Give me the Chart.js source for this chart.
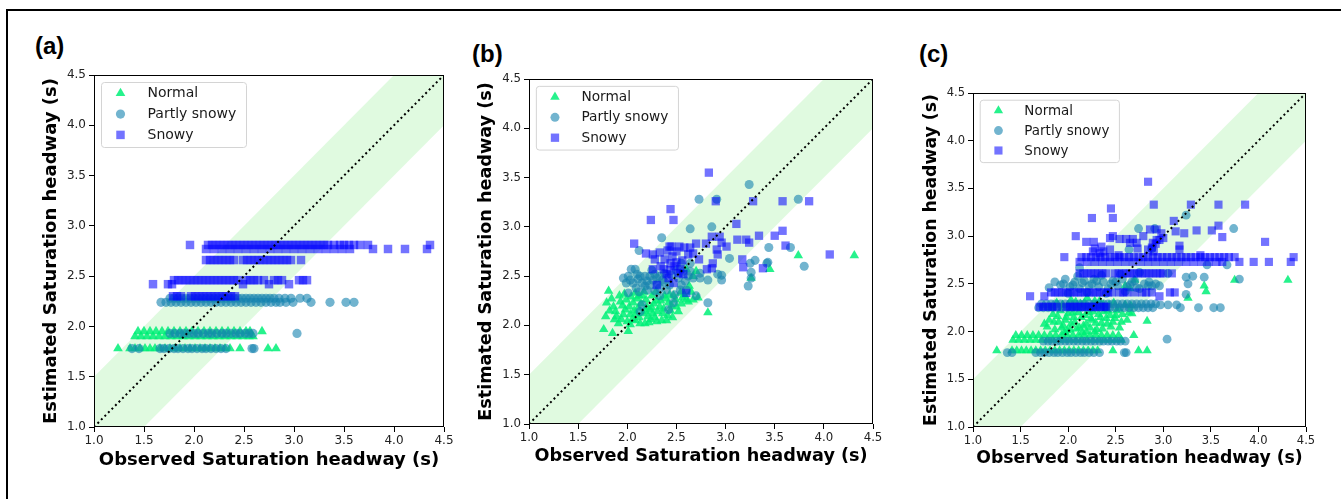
<!DOCTYPE html>
<html>
<head>
<meta charset="utf-8">
<script src="https://cdn.jsdelivr.net/npm/chart.js@4.4.1/dist/chart.umd.min.js"></script>
<style>
  body { margin: 0; background: #fff; width: 1341px; height: 499px; overflow: hidden; position: relative; }
  .frame { position: absolute; left: 6px; top: 9px; width: 1400px; height: 600px; border-left: 2px solid #000; border-top: 2px solid #000; }
  .tag { position: absolute; font: bold 24px "Liberation Sans", Arial, sans-serif; line-height: 24px; color: #000; }
  canvas { position: absolute; }
</style>
</head>
<body>
<div class="frame"></div>
<div class="tag" style="left:35px;top:34px">(a)</div>
<div class="tag" style="left:472px;top:42px">(b)</div>
<div class="tag" style="left:919px;top:42px">(c)</div>
<canvas id="chartA"></canvas>
<canvas id="chartB"></canvas>
<canvas id="chartC"></canvas>

<script>
// axis ticks and labels
const ticks = [1.0, 1.5, 2.0, 2.5, 3.0, 3.5, 4.0, 4.5];
const xTitle = "Observed Saturation headway (s)";
const yTitle = "Estimated Saturation headway (s)";
const seriesNames = ["Normal", "Partly snowy", "Snowy"];
const bandWidth = 0.5; // +/- 0.5 s band around y = x

// (a) points: [observed, estimated]
const aNormal = [
  [1.44,1.95],[1.50,1.95],[1.56,1.95],[1.62,1.95],[1.68,1.95],[1.74,1.95],[1.80,1.95],[1.86,1.95],[1.92,1.95],[1.98,1.95],
  [2.04,1.95],[2.10,1.95],[2.16,1.95],[2.22,1.95],[2.28,1.95],[2.34,1.95],[2.40,1.95],[2.46,1.95],[2.52,1.95],[2.56,1.95],[2.68,1.95],
  [1.41,1.90],[1.47,1.90],[1.53,1.90],[1.59,1.90],[1.65,1.90],[1.71,1.90],[1.77,1.90],[1.83,1.90],[1.89,1.90],[1.95,1.90],
  [2.01,1.90],[2.07,1.90],[2.13,1.90],[2.19,1.90],[2.25,1.90],[2.31,1.90],[2.37,1.90],[2.43,1.90],[2.49,1.90],[2.55,1.90],[2.59,1.90],
  [1.24,1.78],[1.36,1.78],[1.41,1.78],[1.46,1.78],[1.51,1.78],[1.56,1.78],[1.61,1.78],[1.66,1.78],[1.71,1.78],[1.76,1.78],
  [1.81,1.78],[1.86,1.78],[1.91,1.78],[1.96,1.78],[2.01,1.78],[2.06,1.78],[2.11,1.78],[2.16,1.78],[2.21,1.78],[2.26,1.78],
  [2.31,1.78],[2.36,1.78],[2.46,1.78],[2.74,1.78],[2.82,1.78]
];
const aPartly = [
  [1.76,2.28],[1.80,2.28],[1.84,2.28],[1.88,2.28],[1.92,2.28],[1.96,2.28],[2.00,2.28],[2.04,2.28],[2.08,2.28],[2.12,2.28],
  [2.16,2.28],[2.20,2.28],[2.24,2.28],[2.28,2.28],[2.32,2.28],[2.36,2.28],[2.40,2.28],[2.44,2.28],[2.48,2.28],[2.52,2.28],
  [2.56,2.28],[2.60,2.28],[2.64,2.28],[2.68,2.28],[2.72,2.28],[2.76,2.28],[2.80,2.28],[2.85,2.28],[2.91,2.28],[2.97,2.28],
  [3.06,2.28],[3.13,2.28],
  [1.67,2.24],[1.72,2.24],[1.77,2.24],[1.82,2.24],[1.87,2.24],[1.92,2.24],[1.97,2.24],[2.02,2.24],[2.07,2.24],[2.12,2.24],
  [2.17,2.24],[2.22,2.24],[2.27,2.24],[2.32,2.24],[2.37,2.24],[2.42,2.24],[2.47,2.24],[2.52,2.24],[2.57,2.24],[2.62,2.24],
  [2.67,2.24],[2.72,2.24],[2.77,2.24],[2.82,2.24],[2.86,2.24],[2.92,2.24],[2.99,2.24],[3.17,2.24],[3.36,2.24],[3.52,2.24],[3.60,2.24],
  [1.76,1.93],[1.81,1.93],[1.86,1.93],[1.90,1.93],[1.95,1.93],[2.00,1.93],[2.04,1.93],[2.09,1.93],[2.14,1.93],[2.18,1.93],
  [2.23,1.93],[2.28,1.93],[2.32,1.93],[2.37,1.93],[2.42,1.93],[2.46,1.93],[2.51,1.93],[2.55,1.93],[2.59,1.93],[3.03,1.93],
  [1.38,1.78],[1.45,1.78],[1.66,1.78],[1.70,1.78],[1.75,1.78],[1.80,1.78],[1.84,1.78],[1.89,1.78],[1.94,1.78],[1.98,1.78],
  [2.03,1.78],[2.08,1.78],[2.12,1.78],[2.17,1.78],[2.22,1.78],[2.27,1.78],[2.32,1.78],[2.58,1.78],[2.60,1.78]
];
const aSnowy = [
  [1.96,2.81],[2.14,2.81],[2.18,2.81],[2.22,2.81],[2.26,2.81],[2.30,2.81],[2.34,2.81],[2.38,2.81],[2.42,2.81],[2.46,2.81],
  [2.50,2.81],[2.54,2.81],[2.58,2.81],[2.62,2.81],[2.66,2.81],[2.70,2.81],[2.74,2.81],[2.78,2.81],[2.82,2.81],[2.86,2.81],
  [2.90,2.81],[2.94,2.81],[2.98,2.81],[3.02,2.81],[3.06,2.81],[3.10,2.81],[3.14,2.81],[3.18,2.81],[3.22,2.81],[3.26,2.81],
  [3.30,2.81],[3.34,2.81],[3.40,2.81],[3.46,2.81],[3.50,2.81],[3.55,2.81],[3.60,2.81],[3.66,2.81],[3.74,2.81],[4.36,2.81],
  [2.12,2.77],[2.20,2.77],[2.28,2.77],[2.36,2.77],[2.44,2.77],[2.52,2.77],[2.60,2.77],[2.68,2.77],[2.76,2.77],[2.84,2.77],
  [2.92,2.77],[3.00,2.77],[3.08,2.77],[3.16,2.77],[3.24,2.77],[3.32,2.77],[3.40,2.77],[3.48,2.77],[3.56,2.77],
  [3.79,2.77],[3.94,2.77],[4.11,2.77],[4.33,2.77],
  [2.12,2.66],[2.16,2.66],[2.20,2.66],[2.24,2.66],[2.28,2.66],[2.32,2.66],[2.36,2.66],[2.40,2.66],[2.49,2.66],[2.53,2.66],
  [2.57,2.66],[2.61,2.66],[2.65,2.66],[2.69,2.66],[2.73,2.66],[2.77,2.66],[2.81,2.66],[2.85,2.66],[2.89,2.66],[2.93,2.66],
  [2.97,2.66],[3.07,2.66],
  [1.80,2.46],[1.84,2.46],[1.88,2.46],[1.92,2.46],[1.96,2.46],[2.00,2.46],[2.04,2.46],[2.08,2.46],[2.12,2.46],[2.16,2.46],
  [2.20,2.46],[2.24,2.46],[2.28,2.46],[2.32,2.46],[2.36,2.46],[2.40,2.46],[2.44,2.46],[2.52,2.46],[2.56,2.46],[2.60,2.46],
  [2.64,2.46],[2.70,2.46],[2.80,2.46],[2.84,2.46],[2.88,2.46],[3.05,2.46],[3.09,2.46],[3.13,2.46],
  [1.59,2.42],[1.74,2.42],[1.78,2.42],[2.49,2.42],[2.75,2.42],[2.95,2.42],
  [1.79,2.30],[1.83,2.30],[1.87,2.30],[1.97,2.30],[2.01,2.30],[2.05,2.30],[2.09,2.30],[2.13,2.30],[2.17,2.30],[2.21,2.30],
  [2.25,2.30],[2.29,2.30],[2.33,2.30],[2.37,2.30],[2.41,2.30]
];

// (b) points
const bNormal = [
  [1.81,2.35],[1.76,1.96],[1.85,1.92],[2.01,1.94],[1.92,2.30],[1.79,2.23],[1.78,2.09],[1.86,2.19],[1.89,2.09],[1.99,2.26],
  [1.98,2.16],[2.03,2.11],[2.06,2.23],[2.08,2.33],[2.09,2.12],[2.13,2.02],[2.18,2.02],[2.20,2.19],[2.25,2.30],[2.26,2.12],
  [2.30,2.04],[2.33,2.19],[2.38,2.30],[2.40,2.05],[2.42,2.23],[2.47,2.30],[2.50,2.19],[2.21,2.09],[1.94,2.06],[2.60,2.57],
  [2.67,2.50],[2.67,2.26],[2.60,2.26],[2.82,2.13],[3.26,2.48],[3.45,2.57],[3.74,2.71],[4.31,2.71],[2.54,2.33],[2.15,2.30],
  [2.36,2.12],[1.82,2.15],[1.95,2.20],[2.11,2.18],[2.24,2.06],[2.44,2.15],[2.56,2.28],[2.70,2.55],[2.63,2.40],[2.72,2.28],
  [1.84,2.27],[1.88,2.14],[1.91,2.02],[1.93,2.24],[1.96,2.11],[1.97,2.32],[2.00,2.04],[2.02,2.19],[2.04,2.29],[2.05,2.06],
  [2.07,2.15],[2.10,2.27],[2.12,2.08],[2.14,2.22],[2.16,2.12],[2.17,2.34],[2.19,2.26],[2.22,2.03],[2.23,2.16],[2.27,2.22],
  [2.28,2.08],[2.29,2.34],[2.31,2.14],[2.34,2.25],[2.35,2.05],[2.37,2.17],[2.39,2.27],[2.41,2.10],[2.43,2.31],[2.45,2.20],
  [2.46,2.08],[2.49,2.26],[2.52,2.14],[2.55,2.22],[2.58,2.31],[2.62,2.24],[2.65,2.34],[2.30,2.25],[2.12,2.30],[2.25,2.18],
  [2.03,2.01],[2.19,2.14],[1.87,2.06],[2.08,2.05]
];
const bPartly = [
  [3.24,3.43],[2.73,3.28],[2.91,3.28],[3.74,3.28],[2.64,2.98],[2.86,3.00],[2.35,2.89],[3.44,2.79],[3.66,2.79],[3.04,2.68],
  [2.12,2.76],[3.30,2.66],[3.25,2.63],[3.42,2.63],[3.80,2.60],[3.26,2.54],[3.23,2.40],[3.26,2.48],[2.96,2.51],[2.96,2.46],
  [2.82,2.46],[2.82,2.23],[2.70,2.30],[2.60,2.36],[2.64,2.63],[2.74,2.53],[2.74,2.48],[2.67,2.48],[2.55,2.63],[1.96,2.48],
  [2.01,2.50],[2.04,2.57],[2.08,2.57],[2.13,2.50],[2.18,2.50],[2.23,2.50],[2.28,2.52],[2.33,2.50],[2.38,2.53],[1.99,2.43],
  [2.06,2.43],[2.15,2.43],[2.23,2.41],[2.01,2.33],[2.09,2.38],[2.20,2.36],[2.33,2.38],[2.40,2.36],[2.15,2.21],[2.13,2.14],
  [2.33,2.30],[2.42,2.16],[2.47,2.23],[2.48,2.31],[2.54,2.36],[2.55,2.41],[2.59,2.45],[2.64,2.55],[2.30,2.48],[2.43,2.41],
  [2.52,2.48],[2.57,2.55],[2.92,2.52],[3.43,2.64],
  [2.03,2.46],[2.11,2.47],[2.20,2.45],[2.26,2.46],[2.36,2.46],[2.45,2.51],[2.50,2.56],[2.62,2.50],[2.10,2.52],[2.25,2.56],
  [2.31,2.42],[2.18,2.40],[2.12,2.34],[2.28,2.35],[2.38,2.44]
];
const bSnowy = [
  [2.83,3.55],[2.44,3.18],[2.47,3.07],[2.24,3.07],[2.90,3.26],[3.28,3.26],[3.58,3.26],[3.85,3.26],[3.11,3.03],[2.07,2.83],
  [2.19,2.73],[2.26,2.72],[2.28,2.67],[2.38,2.67],[2.26,2.57],[2.37,2.57],[2.44,2.63],[2.45,2.80],[2.43,2.80],[2.53,2.80],
  [2.58,2.79],[2.64,2.79],[2.70,2.83],[2.80,2.83],[2.67,2.73],[2.73,2.67],[2.86,2.90],[2.94,2.90],[2.96,2.84],[3.01,2.80],
  [2.91,2.77],[2.92,2.72],[2.87,2.63],[2.86,2.58],[2.81,2.57],[3.12,2.87],[3.21,2.87],[3.24,2.84],[3.34,2.91],[3.50,2.91],
  [3.58,2.96],[3.61,2.81],[3.17,2.67],[3.18,2.59],[3.38,2.58],[4.06,2.72],[2.60,2.33],[2.30,2.41],[2.47,2.43],[2.42,2.48],
  [2.52,2.53],[2.54,2.57],[2.48,2.60],[2.40,2.52],
  [2.34,2.60],[2.46,2.70],[2.50,2.75],[2.56,2.66],[2.62,2.72],[2.41,2.76],[2.33,2.74],[2.50,2.64],[2.57,2.52],[2.44,2.56]
];

// (c) points
const cNormal = [
  [1.45,1.96],[1.51,1.96],[1.57,1.96],[1.63,1.96],[1.69,1.96],[1.75,1.96],[1.81,1.96],[1.87,1.96],[1.93,1.96],[1.99,1.96],
  [2.05,1.96],[2.11,1.96],[2.17,1.96],[2.23,1.96],[2.29,1.96],[2.35,1.96],[2.41,1.96],[2.47,1.96],[2.53,1.96],[2.69,1.96],
  [1.42,1.91],[1.48,1.91],[1.54,1.91],[1.60,1.91],[1.66,1.91],[1.72,1.91],[1.78,1.91],[1.84,1.91],[1.90,1.91],[1.96,1.91],
  [2.02,1.91],[2.08,1.91],[2.14,1.91],[2.20,1.91],[2.26,1.91],[2.32,1.91],[2.38,1.91],[2.44,1.91],[2.50,1.91],[2.56,1.91],
  [1.25,1.80],[1.41,1.80],[1.46,1.80],[1.51,1.80],[1.56,1.80],[1.61,1.80],[1.66,1.80],[1.71,1.80],[1.76,1.80],[1.81,1.80],
  [1.86,1.80],[1.91,1.80],[1.96,1.80],[2.01,1.80],[2.06,1.80],[2.11,1.80],[2.16,1.80],[2.21,1.80],[2.26,1.80],[2.31,1.80],
  [2.47,1.80],[2.74,1.80],[2.83,1.80],
  [1.78,2.05],[1.80,2.12],[1.84,2.18],[1.86,2.02],[1.90,2.10],[1.92,2.22],[1.95,2.06],[1.98,2.15],[2.00,2.28],[2.02,2.02],
  [2.05,2.20],[2.07,2.10],[2.10,2.25],[2.12,2.04],[2.14,2.15],[2.17,2.30],[2.19,2.08],[2.22,2.20],[2.25,2.12],[2.27,2.26],
  [2.30,2.02],[2.32,2.18],[2.35,2.09],[2.37,2.28],[2.40,2.14],[2.42,2.22],[2.45,2.05],[2.48,2.30],[2.50,2.17],[2.53,2.24],
  [2.56,2.10],[2.60,2.28],[2.64,2.20],[1.88,2.30],[2.03,2.33],[2.20,2.35],[2.33,2.32],[1.96,1.99],[2.15,1.99],[2.28,2.00],
  [1.75,2.08],[1.82,2.25],[1.85,2.10],[1.89,2.16],[1.93,2.04],[1.94,2.28],[1.97,2.12],[2.00,2.19],[2.03,2.08],[2.04,2.26],
  [2.06,2.15],[2.09,2.03],[2.11,2.20],[2.13,2.29],[2.16,2.06],[2.18,2.17],[2.21,2.26],[2.23,2.04],[2.24,2.14],[2.26,2.21],
  [2.29,2.09],[2.31,2.27],[2.34,2.15],[2.36,2.03],[2.38,2.21],[2.41,2.08],[2.43,2.28],[2.44,2.17],[2.47,2.10],[2.51,2.22],
  [2.54,2.04],[2.57,2.18],[2.62,2.12],[2.66,2.27],[2.08,2.31],[2.28,2.32],[1.99,2.01],[2.19,2.00],
  [2.70,2.54],[2.67,2.19],[2.83,2.11],[2.49,2.14],[3.26,2.35],[3.43,2.48],[3.45,2.42],[3.75,2.54],[4.31,2.54],[2.60,2.48],[2.65,2.45]
];
const cPartly = [
  [1.72,2.29],[1.77,2.29],[1.82,2.29],[1.87,2.29],[1.92,2.29],[1.97,2.29],[2.02,2.29],[2.07,2.29],[2.12,2.29],[2.17,2.29],
  [2.22,2.29],[2.27,2.29],[2.32,2.29],[2.37,2.29],[2.42,2.29],[2.47,2.29],[2.52,2.29],[2.57,2.29],[2.62,2.29],[2.67,2.29],
  [2.72,2.29],[2.77,2.29],[2.82,2.29],[2.87,2.29],[2.92,2.29],[2.97,2.28],[3.05,2.28],[3.14,2.28],
  [1.69,2.25],[1.74,2.25],[1.79,2.25],[1.84,2.25],[1.89,2.25],[1.94,2.25],[1.99,2.25],[2.04,2.25],[2.09,2.25],[2.14,2.25],
  [2.19,2.25],[2.24,2.25],[2.29,2.25],[2.34,2.25],[2.39,2.25],[2.44,2.25],[2.49,2.25],[2.54,2.25],[2.59,2.25],[2.64,2.25],
  [2.69,2.25],[2.74,2.25],[2.79,2.25],[2.84,2.25],[2.89,2.25],[3.18,2.25],[3.37,2.25],[3.53,2.25],[3.60,2.25],
  [1.74,1.90],[1.79,1.90],[1.83,1.90],[1.88,1.90],[1.92,1.90],[1.97,1.90],[2.01,1.90],[2.06,1.90],[2.10,1.90],[2.15,1.90],
  [2.19,1.90],[2.24,1.90],[2.28,1.90],[2.33,1.90],[2.37,1.90],[2.42,1.90],[2.46,1.90],[2.51,1.90],[2.55,1.90],[2.60,1.90],[3.04,1.92],
  [1.36,1.78],[1.41,1.78],[1.66,1.78],[1.71,1.78],[1.75,1.78],[1.80,1.78],[1.85,1.78],[1.89,1.78],[1.94,1.78],[1.99,1.78],
  [2.03,1.78],[2.08,1.78],[2.13,1.78],[2.17,1.78],[2.22,1.78],[2.27,1.78],[2.33,1.78],[2.59,1.78],[2.61,1.78],
  [1.80,2.46],[1.86,2.52],[1.92,2.49],[1.97,2.55],[2.02,2.47],[2.07,2.52],[2.12,2.45],[2.17,2.53],[2.22,2.48],[2.27,2.55],
  [2.32,2.47],[2.37,2.52],[2.42,2.45],[2.47,2.53],[2.52,2.48],[2.57,2.55],[2.62,2.47],[2.67,2.52],[2.72,2.46],[2.80,2.50],
  [2.88,2.48],[2.00,2.40],[2.20,2.41],[2.40,2.40],[2.60,2.42],[2.10,2.58],[2.35,2.59],[2.55,2.60],[2.75,2.62],
  [1.95,2.50],[2.05,2.49],[2.15,2.51],[2.25,2.50],[2.30,2.53],[2.45,2.50],[2.50,2.52],[2.65,2.49],[2.70,2.53],[2.85,2.52],[2.92,2.50],
  [3.24,3.22],[2.74,3.08],[2.91,3.08],[3.74,3.08],[2.64,2.86],[2.88,2.87],[2.12,2.67],[3.46,2.70],[3.67,2.70],[3.80,2.55],
  [3.24,2.57],[3.31,2.58],[3.26,2.50],[3.43,2.57],[3.24,2.39],[3.05,2.61],[2.96,2.48],[2.84,2.48],[2.75,2.45]
];
const cSnowy = [
  [1.96,2.78],[2.14,2.78],[2.19,2.78],[2.24,2.78],[2.29,2.78],[2.34,2.78],[2.39,2.78],[2.44,2.78],[2.49,2.78],[2.54,2.78],
  [2.59,2.78],[2.64,2.78],[2.69,2.78],[2.74,2.78],[2.79,2.78],[2.84,2.78],[2.89,2.78],[2.94,2.78],[2.99,2.78],[3.04,2.78],
  [3.09,2.78],[3.14,2.78],[3.19,2.78],[3.24,2.78],[3.29,2.78],[3.34,2.78],[3.39,2.78],[3.44,2.78],[3.49,2.78],[3.54,2.78],
  [3.59,2.78],[3.64,2.78],[3.69,2.78],[3.75,2.78],[4.37,2.78],
  [2.12,2.73],[2.20,2.73],[2.28,2.73],[2.36,2.73],[2.44,2.73],[2.52,2.73],[2.60,2.73],[2.68,2.73],[2.76,2.73],[2.84,2.73],
  [2.92,2.73],[3.00,2.73],[3.08,2.73],[3.16,2.73],[3.24,2.73],[3.32,2.73],[3.40,2.73],[3.48,2.73],[3.56,2.73],[3.62,2.73],
  [3.80,2.73],[3.95,2.73],[4.11,2.73],[4.34,2.73],
  [2.12,2.61],[2.16,2.61],[2.20,2.61],[2.24,2.61],[2.28,2.61],[2.32,2.61],[2.36,2.61],[2.40,2.61],[2.49,2.61],[2.53,2.61],
  [2.57,2.61],[2.61,2.61],[2.65,2.61],[2.69,2.61],[2.73,2.61],[2.77,2.61],[2.81,2.61],[2.85,2.61],[2.89,2.61],[2.93,2.61],
  [2.97,2.61],[3.00,2.61],[3.09,2.61],
  [1.82,2.41],[1.86,2.41],[1.90,2.41],[1.94,2.41],[1.98,2.41],[2.02,2.41],[2.06,2.41],[2.10,2.41],[2.14,2.41],[2.18,2.41],
  [2.22,2.41],[2.26,2.41],[2.30,2.41],[2.34,2.41],[2.38,2.41],[2.42,2.41],[2.46,2.41],[2.54,2.41],[2.58,2.41],[2.62,2.41],
  [2.70,2.41],[2.78,2.41],[2.82,2.41],[2.88,2.41],[3.07,2.41],[3.12,2.41],[1.60,2.37],[1.75,2.37],[2.96,2.37],
  [1.70,2.26],[1.74,2.26],[1.79,2.26],[1.83,2.26],[1.88,2.26],[1.98,2.26],[2.02,2.26],[2.06,2.26],[2.10,2.26],[2.14,2.26],
  [2.18,2.26],[2.22,2.26],[2.26,2.26],[2.30,2.26],[2.34,2.26],[2.38,2.26],[2.40,2.26],
  [2.84,3.57],[2.45,3.29],[2.47,3.19],[2.25,3.19],[2.90,3.33],[3.29,3.33],[3.58,3.33],[3.86,3.33],[3.11,3.16],[2.08,3.00],
  [4.07,2.94],[3.58,3.11],[3.62,2.99],[3.51,3.06],[3.35,3.06],[3.22,3.03],[3.13,3.05],[3.17,2.90],[3.17,2.86],[3.39,2.80],
  [2.19,2.94],[2.27,2.94],[2.44,2.98],[2.47,3.00],[2.54,2.97],[2.61,2.97],[2.68,2.97],[2.72,2.93],[2.79,3.00],[2.86,3.07],
  [2.93,3.07],[2.98,3.03],[2.93,2.96],[2.89,2.93],[2.84,2.86],[2.73,2.87],[2.65,2.93],[2.37,2.84],[2.28,2.87],[2.35,2.89],
  [2.26,2.84],[2.33,2.82],[2.44,2.86],[2.53,2.80],[2.88,2.88],[2.92,2.92],[2.96,2.96],[3.00,2.98],[2.90,2.84]
];

const colors = {
  normal: "rgba(0,240,120,0.85)",
  partly: "rgba(20,130,175,0.6)",
  snowy: "rgba(0,0,255,0.55)",
  band: "rgba(144,238,144,0.28)"
};
const FONT = "'DejaVu Sans', sans-serif";
const PAD_L = 90, PAD_T = 20, PAD_R = 20, PAD_B = 60;

function drawMarker(ctx, style, r, x, y) {
  ctx.beginPath();
  if (style === "circle") {
    ctx.arc(x, y, r, 0, Math.PI * 2);
  } else if (style === "rect") {
    const h = r * Math.SQRT1_2;
    ctx.rect(x - h, y - h, 2 * h, 2 * h);
  } else {
    ctx.moveTo(x, y - r);
    ctx.lineTo(x + r * 0.866, y + r * 0.5);
    ctx.lineTo(x - r * 0.866, y + r * 0.5);
    ctx.closePath();
  }
  ctx.fill();
}

const framePlugin = {
  id: "frameAndLegend",
  afterDraw(chart, args, opts) {
    const { ctx, chartArea } = chart;
    const s = opts.s;
    ctx.save();
    ctx.strokeStyle = "#000";
    ctx.lineWidth = 1;
    ctx.strokeRect(Math.round(chartArea.left) + 0.5, Math.round(chartArea.top) + 0.5,
      Math.round(chartArea.width) - 1, Math.round(chartArea.height) - 1);

    // legend box
    const bx = chartArea.left + 7.5 * s, by = chartArea.top + 7.5 * s;
    const bw = 145 * s, bh = 65 * s, rr = 3;
    ctx.beginPath();
    ctx.moveTo(bx + rr, by);
    ctx.lineTo(bx + bw - rr, by);
    ctx.quadraticCurveTo(bx + bw, by, bx + bw, by + rr);
    ctx.lineTo(bx + bw, by + bh - rr);
    ctx.quadraticCurveTo(bx + bw, by + bh, bx + bw - rr, by + bh);
    ctx.lineTo(bx + rr, by + bh);
    ctx.quadraticCurveTo(bx, by + bh, bx, by + bh - rr);
    ctx.lineTo(bx, by + rr);
    ctx.quadraticCurveTo(bx, by, bx + rr, by);
    ctx.fillStyle = "rgba(255,255,255,0.8)";
    ctx.fill();
    ctx.strokeStyle = "#d4d4d4";
    ctx.stroke();

    const items = chart.data.datasets.filter(d => d.isSeries);
    ctx.font = (14 * s) + "px " + FONT;
    ctx.textBaseline = "middle";
    items.forEach((d, i) => {
      const cy = by + 10.8 * s + i * 20.8 * s;
      ctx.fillStyle = d.backgroundColor;
      drawMarker(ctx, d.pointStyle, d.pointRadius, bx + 19 * s, cy);
      ctx.fillStyle = "#1a1a1a";
      ctx.fillText(d.label, bx + 46 * s, cy + 0.5);
    });
    ctx.restore();
  }
};

function axis(title, s, isX) {
  const lh = 18 * s * 1.2 / 2;
  return {
    type: "linear",
    min: ticks[0],
    max: ticks[ticks.length - 1],
    afterFit: sc => { if (isX) sc.height = PAD_B; else sc.width = PAD_L; },
    afterBuildTicks: sc => { sc.ticks = ticks.map(v => ({ value: v })); },
    ticks: {
      callback: v => Number(v).toFixed(1),
      font: { family: FONT, size: 12 * s },
      color: "#222",
      padding: isX ? 2 : 3,
      maxRotation: 0,
      autoSkip: false
    },
    grid: { drawOnChartArea: false, drawTicks: true, tickLength: 5, color: "#000" },
    border: { display: false },
    title: {
      display: true,
      text: title,
      color: "#000",
      font: { family: FONT, size: 18 * s, weight: "bold" },
      padding: isX ? { top: 0, bottom: PAD_B - 33 * s - lh } : { top: PAD_L - 43 * s - lh, bottom: 0 }
    }
  };
}

function makePanel(id, plot, s, normal, partly, snowy) {
  const cv = document.getElementById(id);
  cv.width = plot.w + PAD_L + PAD_R;
  cv.height = plot.h + PAD_T + PAD_B;
  cv.style.left = (plot.left - PAD_L) + "px";
  cv.style.top = (plot.top - PAD_T) + "px";
  const lo = ticks[0], hi = ticks[ticks.length - 1];
  const pt = (label, data, style, r, color, order) => ({
    label, data, isSeries: true, pointStyle: style, pointRadius: r, pointBorderWidth: 0,
    backgroundColor: color, borderColor: color, showLine: false, order
  });
  new Chart(cv, {
    type: "scatter",
    data: {
      datasets: [
        pt(seriesNames[0], normal, "triangle", 5.6 * s, colors.normal, 3),
        pt(seriesNames[1], partly, "circle", 4.6 * s, colors.partly, 2),
        pt(seriesNames[2], snowy, "rect", 6.0 * s, colors.snowy, 1),
        { data: [[lo, lo], [hi, hi]], showLine: true, borderColor: "#000", borderWidth: 2 * s,
          borderDash: [2, 3], pointRadius: 0, order: 0 },
        { data: [[lo, lo + bandWidth], [hi, hi + bandWidth]], showLine: true, borderWidth: 0,
          pointRadius: 0, fill: false, order: 10 },
        { data: [[lo, lo - bandWidth], [hi, hi - bandWidth]], showLine: true, borderWidth: 0,
          pointRadius: 0, fill: "-1", backgroundColor: colors.band, order: 10 }
      ]
    },
    options: {
      responsive: false,
      animation: false,
      events: [],
      layout: { padding: { left: 0, top: PAD_T, right: PAD_R, bottom: 0 } },
      scales: { x: axis(xTitle, s, true), y: axis(yTitle, s, false) },
      plugins: { legend: { display: false }, tooltip: { enabled: false }, frameAndLegend: { s } }
    },
    plugins: [framePlugin]
  });
}

makePanel("chartA", { left: 94, top: 75, w: 350, h: 352 }, 1.0, aNormal, aPartly, aSnowy);
makePanel("chartB", { left: 529, top: 79, w: 344, h: 345 }, 0.98, bNormal, bPartly, bSnowy);
makePanel("chartC", { left: 973, top: 93, w: 333, h: 334 }, 0.96, cNormal, cPartly, cSnowy);
</script>
</body>
</html>
